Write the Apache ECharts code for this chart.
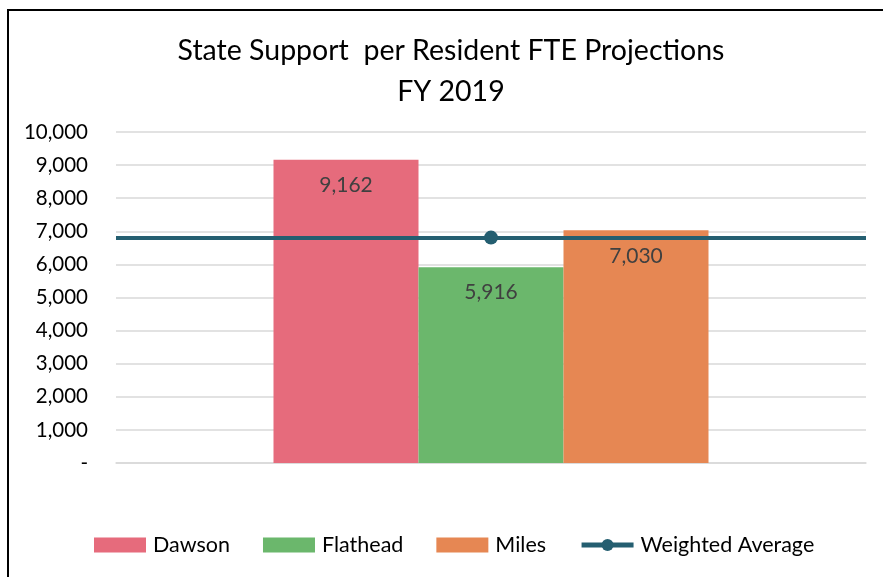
<!DOCTYPE html>
<html><head><meta charset="utf-8">
<script src="https://cdn.jsdelivr.net/npm/echarts@6/dist/echarts.min.js"></script>
<style>html,body{margin:0;padding:0;background:#fff}#c{width:883px;height:577px}</style>
</head><body><div id="c"></div>
<script>
const titleText = 'State Support  per Resident FTE Projections\nFY 2019';
const categories = ['FY 2019'];
const seriesNames = ['Dawson', 'Flathead', 'Miles'];
const dawson = [9162];
const flathead = [5916];
const miles = [7030];
const weightedAverage = [6810];
const yTicks = [0, 1000, 2000, 3000, 4000, 5000, 6000, 7000, 8000, 9000, 10000];
const colors = ['#E66B7C', '#6BB76C', '#E68753'];
const lineColor = '#245E70';
const font = 'Lato, "Open Sans", sans-serif';

const chart = echarts.init(document.getElementById('c'), null, {renderer: 'canvas'});
const fmt = v => v === 0 ? '-' : v.toLocaleString('en-US');
const barData = [dawson, flathead, miles];
const bars = seriesNames.map((n, i) => ({
  name: n, type: 'bar', data: barData[i], barWidth: 145, barGap: '0%',
  itemStyle: {color: colors[i]},
  label: {show: true, position: 'insideTop', distance: 15, formatter: p => fmt(p.value),
    fontFamily: font, fontSize: 21, color: '#404040'}
}));
chart.setOption({
  animation: false,
  backgroundColor: '#fff',
  title: {text: titleText, left: 446, top: 25, textAlign: 'center',
    textStyle: {fontFamily: font, fontSize: 28.5, fontWeight: 'normal', color: '#000', lineHeight: 41}},
  grid: {left: 116, right: 17, top: 132, bottom: 114, containLabel: false},
  xAxis: {type: 'category', data: categories, axisTick: {show: false}, axisLabel: {show: false},
    axisLine: {lineStyle: {color: '#D9D9D9', width: 1.5}}},
  yAxis: {type: 'value', min: yTicks[0], max: yTicks[yTicks.length - 1], interval: 1000,
    axisLabel: {formatter: fmt, fontFamily: font, fontSize: 20.5, color: '#000', margin: 28},
    splitLine: {lineStyle: {color: '#D9D9D9', width: 1.5}}, axisLine: {show: false}, axisTick: {show: false}},
  legend: {bottom: 16, left: 89, itemWidth: 52, itemHeight: 15, itemGap: 33,
    textStyle: {fontFamily: font, fontSize: 21.5, color: '#000', padding: [0, 0, 0, 2]},
    data: [
      {name: seriesNames[0], icon: 'rect'},
      {name: seriesNames[1], icon: 'rect'},
      {name: seriesNames[2], icon: 'rect'},
      {name: 'Weighted Average', lineStyle: {width: 5, color: lineColor}}
    ]},
  series: [...bars, {
    name: 'Weighted Average', type: 'line', data: weightedAverage, z: 5,
    symbol: 'circle', symbolSize: 14, itemStyle: {color: lineColor},
    lineStyle: {color: lineColor, width: 4},
    markLine: {silent: true, symbol: 'none', label: {show: false},
      lineStyle: {color: lineColor, width: 4, type: 'solid'},
      data: [{yAxis: weightedAverage[0]}]}
  }],
  graphic: [{type: 'rect', shape: {x: 8, y: 10, width: 900, height: 600},
    style: {fill: 'none', stroke: '#000', lineWidth: 2}, z: 100}]
});
</script></body></html>
